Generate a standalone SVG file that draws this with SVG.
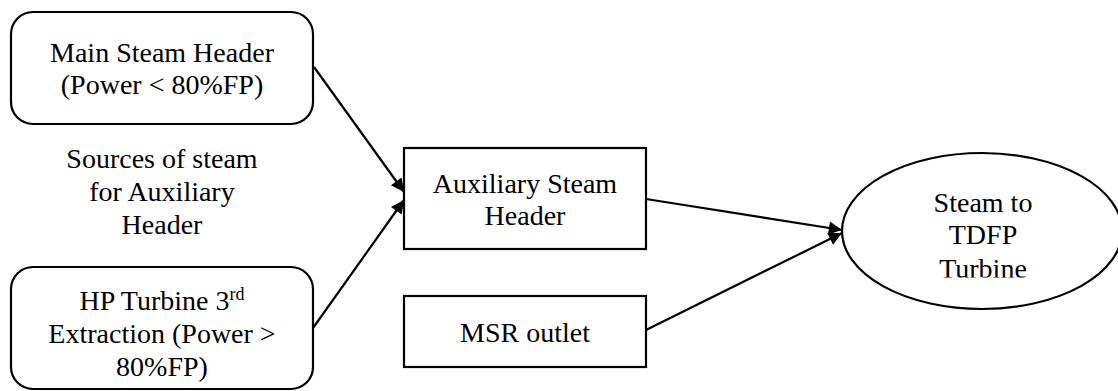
<svg xmlns="http://www.w3.org/2000/svg" width="1118" height="391" viewBox="0 0 1118 391">
  <style>
    .box { fill: #ffffff; stroke: #000000; stroke-width: 2.2; }
    .lbl { font-family: "Liberation Serif", "Times New Roman", serif; font-size: 28px; fill: #000000; text-anchor: middle; }
    .sup { font-size: 18px; }
    .conn { stroke: #000000; stroke-width: 2.2; fill: none; marker-end: url(#arrow); }
  </style>
  <defs>
    <marker id="arrow" viewBox="0 0 10 10" refX="10" refY="5" markerWidth="7" markerHeight="6" orient="auto" markerUnits="strokeWidth">
      <path d="M0,0 L10,5 L0,10 Z" fill="#000000"/>
    </marker>
    <clipPath id="ellClip">
      <rect x="840" y="150" width="280" height="127.5"/>
    </clipPath>
  </defs>

  <g id="main-steam-header">
    <rect class="box" x="11" y="12" width="302" height="112" rx="22" ry="22"/>
    <text class="lbl" x="162" y="62">Main Steam Header</text>
    <text class="lbl" x="162" y="94">(Power &lt; 80%FP)</text>
  </g>

  <g id="sources-label">
    <text class="lbl" x="162" y="168">Sources of steam</text>
    <text class="lbl" x="162" y="201">for Auxiliary</text>
    <text class="lbl" x="162" y="234">Header</text>
  </g>

  <g id="hp-turbine">
    <rect class="box" x="11" y="267" width="302" height="122" rx="22" ry="22"/>
    <text class="lbl" x="162" y="310">HP Turbine 3<tspan class="sup" dy="-10">rd</tspan></text>
    <text class="lbl" x="162" y="343">Extraction (Power &gt;</text>
    <text class="lbl" x="162" y="376">80%FP)</text>
  </g>

  <g id="aux-steam-header">
    <rect class="box" x="404" y="148" width="242" height="101"/>
    <text class="lbl" x="525" y="193">Auxiliary Steam</text>
    <text class="lbl" x="525" y="225">Header</text>
  </g>

  <g id="msr-outlet">
    <rect class="box" x="404" y="296" width="242" height="71"/>
    <text class="lbl" x="525" y="342">MSR outlet</text>
  </g>

  <g id="steam-to-tdfp">
    <ellipse class="box" cx="982" cy="231" rx="140" ry="78"/>
    <g clip-path="url(#ellClip)">
      <text class="lbl" x="983" y="212">Steam to</text>
      <text class="lbl" x="983" y="244">TDFP</text>
      <text class="lbl" x="983" y="278">Turbine</text>
    </g>
  </g>

  <g id="connectors">
    <line class="conn" x1="314" y1="67" x2="404" y2="192"/>
    <line class="conn" x1="313" y1="328" x2="404" y2="200"/>
    <line class="conn" x1="646" y1="199" x2="842" y2="230"/>
    <line class="conn" x1="646" y1="330" x2="842" y2="233"/>
  </g>
</svg>
